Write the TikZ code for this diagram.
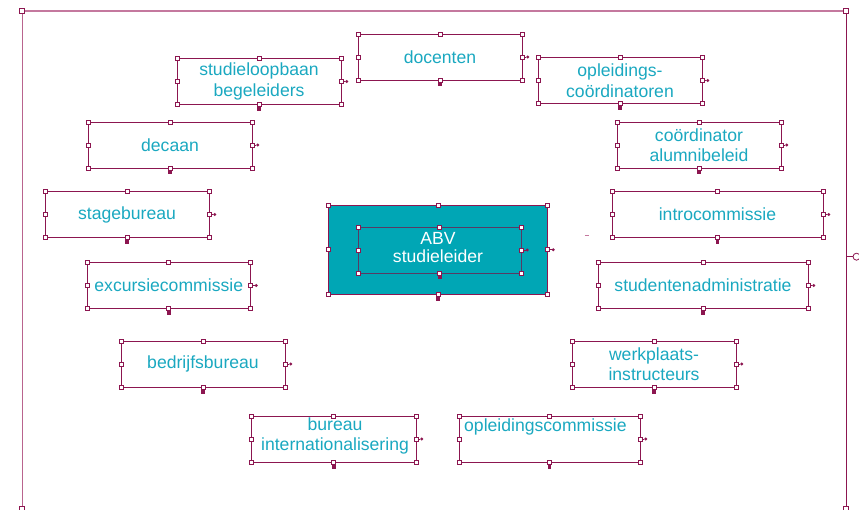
\documentclass[tikz,border=0pt]{standalone}
\usepackage{fontspec}
\setmainfont{Liberation Sans}
\definecolor{edge}{RGB}{140,22,80}
\definecolor{edgelt}{RGB}{196,120,158}
\definecolor{txt}{RGB}{26,168,192}
\definecolor{abvfill}{RGB}{0,166,181}
\definecolor{innerc}{RGB}{88,58,100}
\tikzset{
  box/.style={draw=edge, line width=0.8pt, text=txt, font=\fontsize{17.6}{20.5}\selectfont,
    align=center, inner sep=0pt, outer sep=0pt},
  lbl/.style={text=txt, font=\fontsize{17.6}{20.5}\selectfont, inner sep=0pt, align=center},
  handle/.style={draw=edge, fill=white, line width=0.75pt, minimum size=4.2pt, inner sep=0pt, outer sep=0pt},
  fhandle/.style={draw=edge, fill=white, line width=0.9pt, minimum size=5.2pt, inner sep=0pt, outer sep=0pt},
  fsq/.style={fill=edge, minimum size=3.8pt, inner sep=0pt, outer sep=0pt},
  dotst/.style={circle, fill=edge, minimum size=3.2pt, inner sep=0pt, outer sep=0pt},
}
\newcommand\mkbox[7][]{%
  \node[box,#1,minimum width={(#5-#3)*1pt},minimum height={(#6-#4)*1pt}] (#2) at ({(#3+#5)/2},{(#4+#6)/2}) {#7};
  \foreach \aa/\nm in {north west/nw,north/n,north east/ne,west/w,east/e,south west/sw,south/s,south east/se}
    {\node[handle] (#2-\nm) at (#2.\aa) {};}
  \node[fsq] (#2-sq) at ([yshift=-4.6pt]#2.south) {};
  \node[dotst] (#2-dot) at ([xshift=5.8pt]#2.east) {};
  \draw[edge, line width=0.7pt] (#2-e) -- (#2-dot);
}
\begin{document}
\begin{tikzpicture}[x=1pt,y=-1pt]
\useasboundingbox (0,0) rectangle (859,510);
% frame
\coordinate (ftl) at (22,11);
\coordinate (ftr) at (846,11);
\coordinate (fbl) at (22,509);
\coordinate (fbr) at (846,509);
\coordinate (fr) at (846,256.7);
\draw[edgelt, line width=1.6pt] (ftl) -- (ftr);
\draw[edgelt!80!edge, line width=1pt] (ftl) -- (fbl);
\draw[edge, line width=1pt] (ftr) -- (fbr);
\node[fhandle] (fh1) at (ftl) {};
\node[fhandle] (fh2) at (ftr) {};
\node[fhandle] (fh3) at (fbl) {};
\node[fhandle] (fh4) at (fbr) {};
\node[draw=edge, circle, minimum size=7pt, inner sep=0pt, line width=0.8pt] (fcirc) at (856.5,256.7) {};
\draw[edge, line width=0.8pt] (fr) -- (fcirc);
% small dash
\coordinate (d1) at (584.8,236);
\coordinate (d2) at (588.8,236);
\draw[edgelt, line width=1pt] (d1) -- (d2);
% boxes
\mkbox{docenten}{358}{34}{522}{80}{docenten}
\mkbox{slb}{177}{58.5}{341}{104.5}{studieloopbaan\\begeleiders}
\mkbox{opc}{538}{57.5}{702}{103.5}{opleidings-\\coördinatoren}
\mkbox{decaan}{88}{122}{252}{168}{decaan}
\mkbox{alumni}{617}{122}{781}{168}{coördinator\\alumnibeleid}
\mkbox{stage}{45}{191.5}{209}{237.5}{stagebureau}
\mkbox{intro}{612}{191.5}{823}{237.5}{introcommissie}
\mkbox{excursie}{87}{262.5}{250.5}{308.5}{excursiecommissie}
\mkbox{studadm}{598}{262.5}{808}{308.5}{studentenadministratie}
\mkbox{bedrijf}{121}{341}{285}{387}{bedrijfsbureau}
\mkbox{werkpl}{572}{341}{736}{387}{werkplaats-\\instructeurs}
\mkbox{bureau}{251.5}{416}{416}{462}{}
\node[lbl] (bureau-t) at (335,436) {bureau\\internationalisering};
\mkbox{opcom}{459}{416}{640}{462}{}
\node[lbl, anchor=west] (opcom-t) at (464,427) {opleidingscommissie};
% ABV
\mkbox[fill=abvfill]{abvout}{328.5}{205}{547.5}{294.5}{}
\mkbox[draw=innerc]{abvin}{358}{227}{521.5}{273}{}
\node[lbl, text=white, font=\fontsize{17.6}{18}\selectfont] (abv-t) at (438,248) {ABV\\studieleider};
\end{tikzpicture}
\end{document}
